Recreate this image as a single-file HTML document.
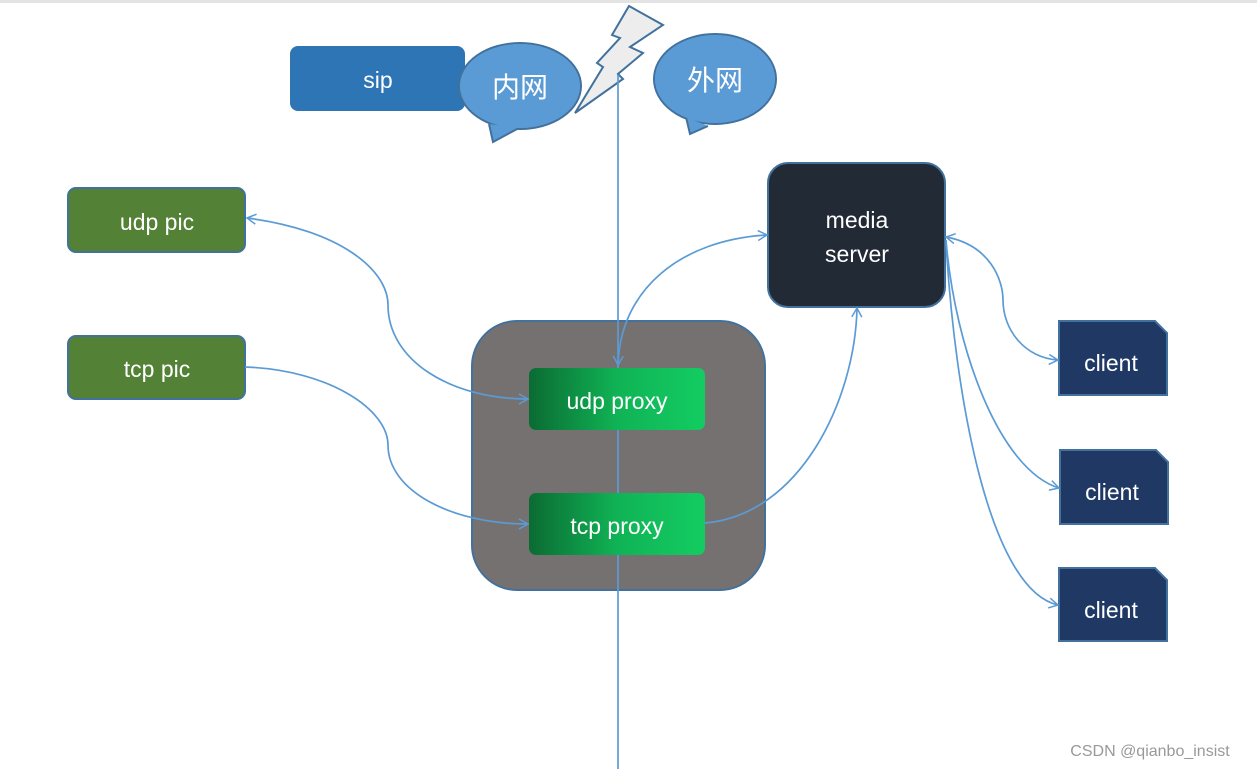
<!DOCTYPE html>
<html><head><meta charset="utf-8"><style>
body{margin:0;background:#fff;width:1257px;height:769px;overflow:hidden}
text{font-family:"Liberation Sans","Noto Sans CJK SC",sans-serif;fill:#fff}
</style></head><body>
<svg width="1257" height="769" viewBox="0 0 1257 769">
<defs>
<marker id="a" markerWidth="12" markerHeight="12" refX="10" refY="6" orient="auto-start-reverse" markerUnits="userSpaceOnUse">
<path d="M1,1 L10,6 L1,11" fill="none" stroke="#5b9bd5" stroke-width="1.5"/></marker>
<linearGradient id="g" x1="0" x2="1"><stop offset="0" stop-color="#0b6b33"/><stop offset="0.5" stop-color="#10b355"/><stop offset="1" stop-color="#13cc62"/></linearGradient>
</defs>
<rect x="0" y="0" width="1257" height="3" fill="#e3e3e3"/>
<rect x="290" y="46" width="175" height="65" rx="8" fill="#2e75b6"/>
<text x="378" y="88" font-size="23" text-anchor="middle">sip</text>
<g fill="#5b9bd5" stroke="#41719c" stroke-width="2">
<ellipse cx="520" cy="86" rx="61" ry="43"/>
<path d="M489,124 L493,142 L519,128"/>
<ellipse cx="715" cy="79" rx="61" ry="45"/>
<path d="M686,117 L690,134 L708,126"/>
</g>
<g fill="#5b9bd5"><ellipse cx="520" cy="86" rx="60" ry="42"/><ellipse cx="715" cy="79" rx="60" ry="44"/></g>
<text x="520" y="97" font-size="28" text-anchor="middle">内网</text>
<text x="715" y="90" font-size="28" text-anchor="middle">外网</text>
<path d="M629,6 L663,25 L630,47 L643,53 L618,74 L623,79 L575,113 L603,67 L597,63 L620,38 L612,35 Z" fill="#ededed" stroke="#41719c" stroke-width="2"/>
<rect x="68" y="188" width="177" height="64" rx="8" fill="#538135" stroke="#41719c" stroke-width="2"/>
<text x="157" y="230" font-size="23" text-anchor="middle">udp pic</text>
<rect x="68" y="336" width="177" height="63" rx="8" fill="#538135" stroke="#41719c" stroke-width="2"/>
<text x="157" y="377" font-size="23" text-anchor="middle">tcp pic</text>
<rect x="768" y="163" width="177" height="144" rx="20" fill="#222a35" stroke="#41719c" stroke-width="2"/>
<text x="857" y="228" font-size="23" text-anchor="middle">media</text>
<text x="857" y="262" font-size="23" text-anchor="middle">server</text>
<rect x="472" y="321" width="293" height="269" rx="45" fill="#767171" stroke="#41719c" stroke-width="2"/>
<rect x="529" y="368" width="176" height="62" rx="7" fill="url(#g)"/>
<text x="617" y="409" font-size="23" text-anchor="middle">udp proxy</text>
<rect x="529" y="493" width="176" height="62" rx="7" fill="url(#g)"/>
<text x="617" y="534" font-size="23" text-anchor="middle">tcp proxy</text>
<g fill="#203864" stroke="#41719c" stroke-width="2">
<path d="M1059,321 H1155 L1167,333 V395 H1059 Z"/>
<path d="M1060,450 H1156 L1168,462 V524 H1060 Z"/>
<path d="M1059,568 H1155 L1167,580 V641 H1059 Z"/>
</g>
<text x="1111" y="371" font-size="23" text-anchor="middle">client</text>
<text x="1112" y="500" font-size="23" text-anchor="middle">client</text>
<text x="1111" y="618" font-size="23" text-anchor="middle">client</text>
<g fill="none" stroke="#5b9bd5" stroke-width="1.7">
<line x1="618" y1="75" x2="618" y2="368"/>
<line x1="618" y1="430" x2="618" y2="493"/>
<line x1="618" y1="555" x2="618" y2="769"/>
<path d="M247,218 C340,230 388,270 388,305 C388,360 450,399 528,399" marker-start="url(#a)" marker-end="url(#a)"/>
<path d="M245,367 C330,370 388,410 388,445 C388,490 450,524 528,524" marker-end="url(#a)"/>
<path d="M618,365 C620,290 680,240 767,235" marker-start="url(#a)" marker-end="url(#a)"/>
<path d="M705,523 C800,515 855,400 857,308" marker-end="url(#a)"/>
<path d="M946,237 C990,245 1003,280 1003,300 C1003,330 1025,358 1058,360" marker-start="url(#a)" marker-end="url(#a)"/>
<path d="M946,240 C955,350 1000,470 1059,488" marker-end="url(#a)"/>
<path d="M946,242 C955,400 990,590 1058,605" marker-end="url(#a)"/>
</g>
<text x="1150" y="756" font-size="16" text-anchor="middle" style="fill:#999">CSDN @qianbo_insist</text>
</svg>
</body></html>
